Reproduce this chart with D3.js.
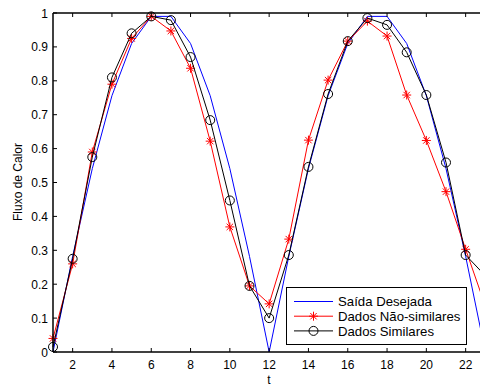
<!DOCTYPE html>
<html><head><meta charset="utf-8">
<script src="https://cdn.jsdelivr.net/npm/d3@7"></script>
<style>body{margin:0;background:#fff}svg{display:block}text{font-family:"Liberation Sans",Arial,sans-serif;fill:#000}</style>
</head><body>
<svg id="c" width="480" height="388"></svg>
<script>
const t = [1,2,3,4,5,6,7,8,9,10,11,12,13,14,15,16,17,18,19,20,21,22,23];
const desejada = [0.0,0.282,0.541,0.756,0.910,0.990,0.990,0.910,0.756,0.541,0.282,0.0,0.282,0.541,0.756,0.910,0.990,0.990,0.910,0.756,0.541,0.282,0.0];
const naoSimilares = [0.04,0.26,0.59,0.79,0.925,0.99,0.947,0.837,0.622,0.369,0.195,0.142,0.333,0.625,0.802,0.917,0.976,0.932,0.758,0.624,0.473,0.303,0.136];
const similares = [0.015,0.275,0.575,0.81,0.94,0.99,0.979,0.87,0.684,0.447,0.195,0.10,0.286,0.546,0.761,0.917,0.985,0.965,0.884,0.758,0.559,0.286,0.225];
const xTicks = [2,4,6,8,10,12,14,16,18,20,22];
const yTicks = [0,0.1,0.2,0.3,0.4,0.5,0.6,0.7,0.8,0.9,1];
const legendLabels = ["Saída Desejada","Dados Não-similares","Dados Similares"];

const svg = d3.select("#c");
const L=53, T=13, B=352, R=480;
const x = d3.scaleLinear().domain([1,23]).range([L, L+22*19.65]);
const y = d3.scaleLinear().domain([0,1]).range([B,T]);

svg.append("defs").append("clipPath").attr("id","clip")
  .append("rect").attr("x",L-6).attr("y",T-6).attr("width",R-L+6).attr("height",B-T+12);

const g = svg.append("g").attr("clip-path","url(#clip)");
const line = d3.line().x((d,i)=>x(t[i])).y(d=>y(d));

const series = [
  {vals:desejada, color:"#0000ff", marker:null},
  {vals:naoSimilares, color:"#ff0000", marker:"star"},
  {vals:similares, color:"#000000", marker:"circle"}
];
function drawMarker(sel, type, color, cx, cy){
  if(type==="circle"){
    sel.append("circle").attr("cx",cx).attr("cy",cy).attr("r",4.5)
      .attr("fill","none").attr("stroke",color).attr("stroke-width",1);
  } else if(type==="star"){
    const s=4.5, d=3.2;
    sel.append("path").attr("d",`M${cx-s},${cy}H${cx+s}M${cx},${cy-s}V${cy+s}M${cx-d},${cy-d}L${cx+d},${cy+d}M${cx-d},${cy+d}L${cx+d},${cy-d}`)
      .attr("stroke",color).attr("stroke-width",1).attr("fill","none");
  }
}
series.forEach(s=>{
  g.append("path").datum(s.vals).attr("d",line).attr("fill","none")
    .attr("stroke",s.color).attr("stroke-width",1);
  if(s.marker){
    s.vals.forEach((v,i)=>drawMarker(g, s.marker, s.color, x(t[i]), y(v)));
  }
});

// axes
const ax = svg.append("g").attr("stroke","#000");
ax.append("line").attr("x1",L).attr("x2",R).attr("y1",B).attr("y2",B).attr("stroke-width",1.5);
ax.append("line").attr("x1",L).attr("x2",R).attr("y1",T).attr("y2",T).attr("stroke-width",1.5);
ax.append("line").attr("x1",L).attr("x2",L).attr("y1",T).attr("y2",B).attr("stroke-width",1.5);
xTicks.forEach(v=>{
  ax.append("line").attr("x1",x(v)).attr("x2",x(v)).attr("y1",B).attr("y2",B-4).attr("stroke-width",1);
  ax.append("line").attr("x1",x(v)).attr("x2",x(v)).attr("y1",T).attr("y2",T+4).attr("stroke-width",1);
  svg.append("text").attr("x",x(v)).attr("y",B+17).attr("text-anchor","middle")
    .attr("font-size",12).text(v);
});
yTicks.forEach(v=>{
  ax.append("line").attr("x1",L).attr("x2",L+4).attr("y1",y(v)).attr("y2",y(v)).attr("stroke-width",1);
  svg.append("text").attr("x",L-5).attr("y",y(v)+4.5).attr("text-anchor","end")
    .attr("font-size",12).text(v);
});
svg.append("text").attr("x",269).attr("y",384).attr("text-anchor","middle").attr("font-size",12).text("t");
svg.append("text").attr("transform","translate(22,182) rotate(-90)").attr("text-anchor","middle")
  .attr("font-size",12).text("Fluxo de Calor");

// legend
const lg = svg.append("g");
lg.append("rect").attr("x",286.5).attr("y",287.5).attr("width",180).attr("height",57)
  .attr("fill","#fff").attr("stroke","#000").attr("stroke-width",1);
series.forEach((s,i)=>{
  const yy = 301.5 + i*14.7;
  lg.append("line").attr("x1",294).attr("x2",333).attr("y1",yy).attr("y2",yy)
    .attr("stroke",s.color).attr("stroke-width",1);
  if(s.marker) drawMarker(lg, s.marker, s.color, 313.5, yy);
  lg.append("text").attr("x",338).attr("y",yy+4.7).attr("font-size",13.2).text(legendLabels[i]);
});
</script>
</body></html>
